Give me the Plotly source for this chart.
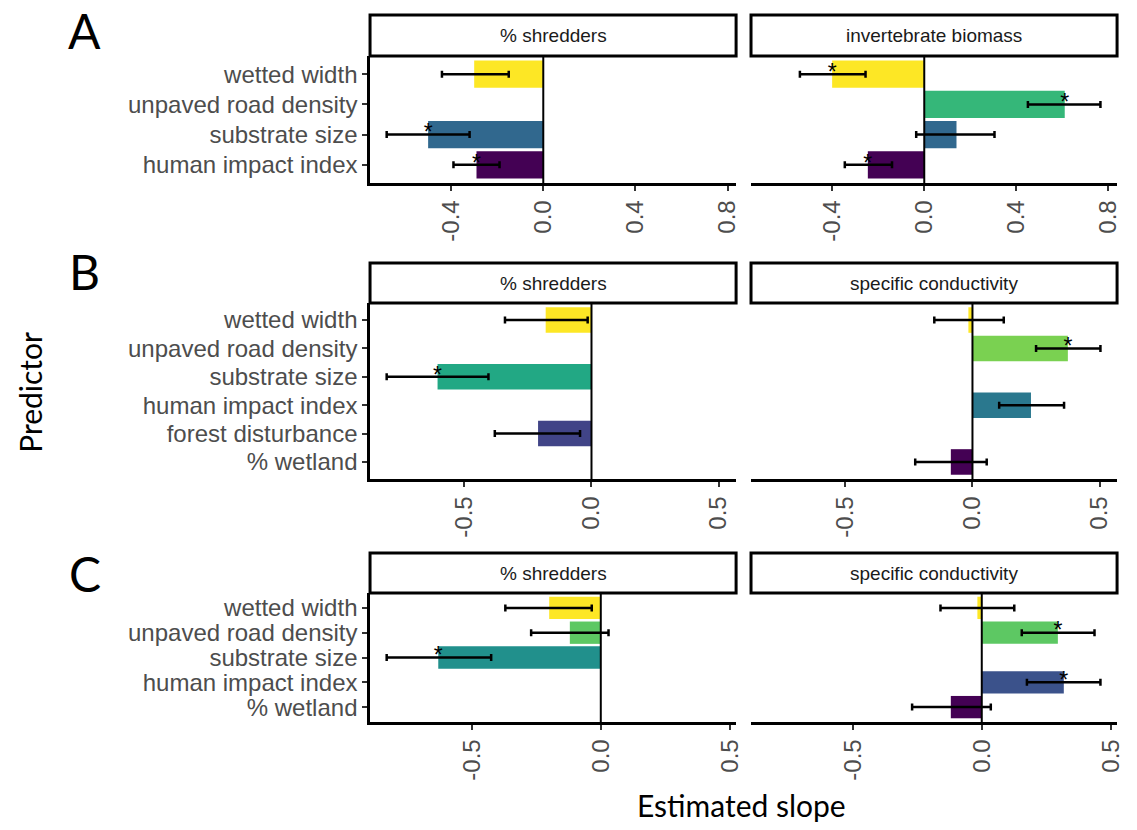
import plotly.graph_objects as go

# ---- data -------------------------------------------------------------
# Panel A: predictors of % shredders and invertebrate biomass
preds_a = ["wetted width", "unpaved road density", "substrate size", "human impact index"]
shred_a_est = [-0.30, None, -0.50, -0.29]
shred_a_lo = [-0.44, None, -0.68, -0.39]
shred_a_hi = [-0.15, None, -0.32, -0.19]
shred_a_sig = [False, None, True, True]

biom_a_est = [-0.40, 0.61, 0.14, -0.245]
biom_a_lo = [-0.54, 0.45, -0.035, -0.345]
biom_a_hi = [-0.255, 0.765, 0.305, -0.14]
biom_a_sig = [True, True, False, True]

# Panel B: predictors of % shredders and specific conductivity
preds_b = ["wetted width", "unpaved road density", "substrate size",
           "human impact index", "forest disturbance", "% wetland"]
shred_b_est = [-0.18, None, -0.605, None, -0.21, None]
shred_b_lo = [-0.34, None, -0.805, None, -0.38, None]
shred_b_hi = [-0.015, None, -0.405, None, -0.045, None]
shred_b_sig = [False, None, True, None, False, None]

cond_b_est = [-0.016, 0.375, None, 0.23, None, -0.085]
cond_b_lo = [-0.15, 0.25, None, 0.105, None, -0.225]
cond_b_hi = [0.123, 0.503, None, 0.36, None, 0.056]
cond_b_sig = [False, True, None, False, None, False]

# Panel C: predictors of % shredders and specific conductivity
preds_c = ["wetted width", "unpaved road density", "substrate size",
           "human impact index", "% wetland"]
shred_c_est = [-0.20, -0.12, -0.63, None, None]
shred_c_lo = [-0.37, -0.27, -0.83, None, None]
shred_c_hi = [-0.035, 0.03, -0.425, None, None]
shred_c_sig = [False, False, True, None, None]

cond_c_est = [-0.017, 0.295, None, 0.318, -0.12]
cond_c_lo = [-0.16, 0.155, None, 0.175, -0.27]
cond_c_hi = [0.126, 0.437, None, 0.46, 0.035]
cond_c_sig = [False, True, None, True, False]

# viridis palettes (top predictor = yellow)
pal_a = ["#FDE725", "#35B779", "#31688E", "#440154"]
pal_b = ["#FDE725", "#7AD151", "#22A884", "#2A788E", "#414487", "#440154"]
pal_c = ["#FDE725", "#5DC863", "#21908C", "#3B528B", "#440154"]

ticks_a = [-0.4, 0.0, 0.4, 0.8]
ticks_bc = [-0.5, 0.0, 0.5]

# ---- layout geometry (pixels) ----------------------------------------
W, H = 1137, 830
COLS = [(372, 740), (755, 1123)]
ROWS = {"A": (56, 183, 15), "B": (303, 479, 263), "C": (593, 722, 553)}

TICK_FONT = dict(family="Liberation Sans, Arial, sans-serif", size=24, color="#4D4D4D")
STRIP_FONT = dict(family="Liberation Sans, Arial, sans-serif", size=19, color="#1A1A1A")
TITLE_FONT = dict(family="Lato, Carlito, sans-serif", size=30, color="#000000")

panels = [
    ("A", 0, "% shredders", preds_a, shred_a_est, shred_a_lo, shred_a_hi, shred_a_sig, pal_a, ticks_a),
    ("A", 1, "invertebrate biomass", preds_a, biom_a_est, biom_a_lo, biom_a_hi, biom_a_sig, pal_a, ticks_a),
    ("B", 0, "% shredders", preds_b, shred_b_est, shred_b_lo, shred_b_hi, shred_b_sig, pal_b, ticks_bc),
    ("B", 1, "specific conductivity", preds_b, cond_b_est, cond_b_lo, cond_b_hi, cond_b_sig, pal_b, ticks_bc),
    ("C", 0, "% shredders", preds_c, shred_c_est, shred_c_lo, shred_c_hi, shred_c_sig, pal_c, ticks_bc),
    ("C", 1, "specific conductivity", preds_c, cond_c_est, cond_c_lo, cond_c_hi, cond_c_sig, pal_c, ticks_bc),
]


def px_x(v):
    return v / W


def px_y(v):
    return 1 - v / H


def row_range(row):
    """Shared x range for a row: data extent plus 5% on each side."""
    vals = [0.0]
    for p in panels:
        if p[0] == row:
            vals += [v for v in p[5] if v is not None] + [v for v in p[6] if v is not None]
    lo, hi = min(vals), max(vals)
    pad = 0.05 * (hi - lo)
    return [lo - pad, hi + pad]


fig = go.Figure()
layout = dict(shapes=[], annotations=[])

for i, (row, col, title, preds, est, lo, hi, sig, pal, ticks) in enumerate(panels, start=1):
    suffix = "" if i == 1 else str(i)
    xa, ya = "x" + suffix, "y" + suffix
    top, bottom, strip_top = ROWS[row]
    x0, x1 = COLS[col]

    keep = [k for k, e in enumerate(est) if e is not None]
    fig.add_trace(go.Bar(
        orientation="h",
        x=[est[k] for k in keep],
        y=[preds[k] for k in keep],
        width=0.9,
        marker=dict(color=[pal[k] for k in keep], line=dict(width=0)),
        error_x=dict(type="data", symmetric=False,
                     array=[hi[k] - est[k] for k in keep],
                     arrayminus=[est[k] - lo[k] for k in keep],
                     color="black", thickness=2.5, width=3.5),
        xaxis=xa, yaxis=ya, hoverinfo="skip",
    ))

    star = [k for k in keep if sig[k]]
    fig.add_trace(go.Scatter(
        x=[est[k] for k in star],
        y=[preds[k] for k in star],
        mode="text", text=["*"] * len(star), textposition="middle center",
        textfont=dict(family="Liberation Sans, Arial, sans-serif", size=23, color="black"),
        xaxis=xa, yaxis=ya, hoverinfo="skip",
    ))

    n = len(preds)
    layout["xaxis" + suffix] = dict(
        domain=[px_x(x0), px_x(x1)], anchor=ya, range=row_range(row),
        tickmode="array", tickvals=ticks, ticktext=[f"{t:.1f}" for t in ticks], tickangle=-90,
        tickfont=TICK_FONT, showgrid=False, zeroline=False,
        showline=True, linecolor="black", linewidth=2.5,
        ticks="outside", ticklen=5, tickwidth=2, tickcolor="#333333",
    )
    left = col == 0
    layout["yaxis" + suffix] = dict(
        domain=[px_y(bottom), px_y(top)], anchor=xa,
        type="category", categoryorder="array", categoryarray=list(reversed(preds)),
        tickmode="array", tickvals=preds, ticktext=preds,
        range=[-0.6, n - 0.4], showgrid=False, zeroline=False,
        showticklabels=left, tickfont=TICK_FONT,
        showline=left, linecolor="black", linewidth=2.5,
        ticks="outside" if left else "", ticklen=5, tickwidth=2, tickcolor="#333333",
    )

    # zero reference line
    layout["shapes"].append(dict(type="line", xref=xa, yref=ya + " domain",
                                 x0=0, x1=0, y0=0, y1=1,
                                 line=dict(color="black", width=2)))
    # facet strip
    layout["shapes"].append(dict(type="rect", xref="paper", yref="paper",
                                 x0=px_x(x0), x1=px_x(x1), y0=px_y(top), y1=px_y(strip_top),
                                 fillcolor="white", line=dict(color="black", width=3)))
    layout["annotations"].append(dict(text=title, xref="paper", yref="paper",
                                      x=px_x((x0 + x1) / 2), y=px_y((top + strip_top) / 2),
                                      xanchor="center", yanchor="middle",
                                      showarrow=False, font=STRIP_FONT))

# panel letters
for letter, (cx, cy) in {"A": (85, 30), "B": (85, 271), "C": (85, 573)}.items():
    layout["annotations"].append(dict(text=letter, xref="paper", yref="paper",
                                      x=px_x(cx), y=px_y(cy), xanchor="center", yanchor="middle",
                                      showarrow=False,
                                      font=dict(family="Lato, Carlito, sans-serif", size=48, color="black")))

# axis titles
layout["annotations"].append(dict(text="Predictor", xref="paper", yref="paper",
                                  x=px_x(30), y=px_y(392), textangle=-90,
                                  xanchor="center", yanchor="middle", showarrow=False, font=TITLE_FONT))
layout["annotations"].append(dict(text="Estimated slope", xref="paper", yref="paper",
                                  x=px_x(745), y=px_y(805),
                                  xanchor="center", yanchor="middle", showarrow=False, font=TITLE_FONT))

fig.update_layout(
    width=W, height=H, margin=dict(l=0, r=0, t=0, b=0),
    paper_bgcolor="white", plot_bgcolor="white",
    showlegend=False, barmode="overlay",
    **layout,
)

fig.write_html("out.html")
